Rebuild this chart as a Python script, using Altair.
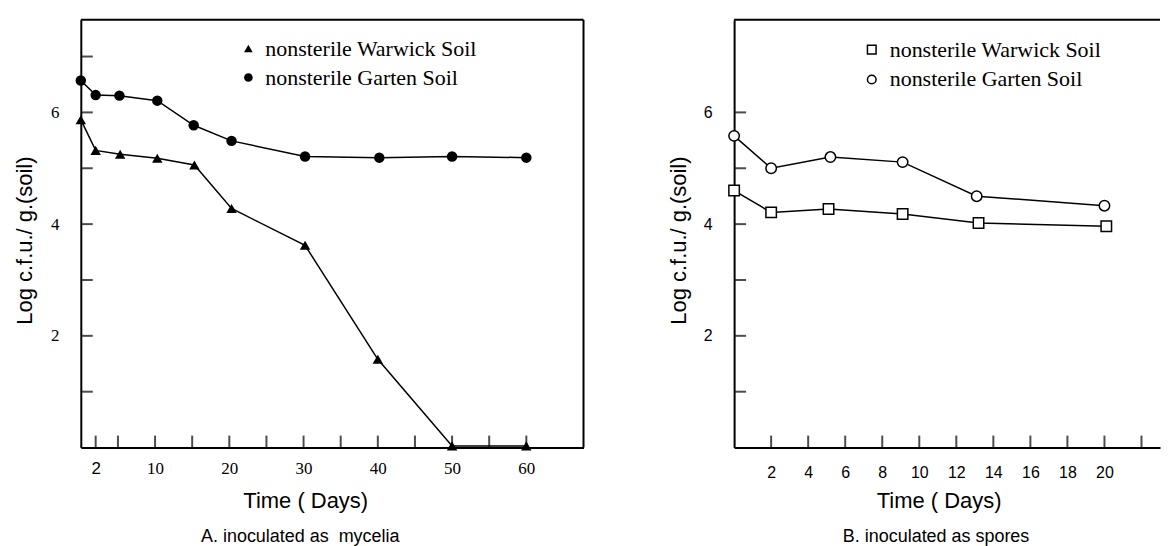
import altair as alt
import pandas as pd

# ---------------- data ----------------
series_names = ["nonsterile Warwick Soil", "nonsterile Garten Soil"]

# Panel A: inoculated as mycelia
a_days_warwick = [0, 2, 5.3, 10.3, 15.3, 20.3, 30.2, 40, 50, 60]
a_log_warwick = [5.87, 5.32, 5.25, 5.18, 5.06, 4.28, 3.62, 1.58, 0.03, 0.03]
a_days_garten = [0, 2, 5.2, 10.3, 15.2, 20.3, 30.2, 40.2, 50, 60]
a_log_garten = [6.57, 6.31, 6.30, 6.21, 5.77, 5.49, 5.21, 5.19, 5.21, 5.19]

# Panel B: inoculated as spores
b_days_warwick = [0, 2, 5.1, 9.1, 13.2, 20.1]
b_log_warwick = [4.60, 4.21, 4.27, 4.18, 4.02, 3.96]
b_days_garten = [0, 2, 5.2, 9.1, 13.1, 20]
b_log_garten = [5.58, 5.00, 5.20, 5.11, 4.50, 4.33]

# axis ticks / labels
a_xticks = [2, 5, 10, 15, 20, 25, 30, 35, 40, 45, 50, 55, 60]
a_xlabels = [2, 10, 20, 30, 40, 50, 60]
a_yticks = [1, 2, 3, 4, 5, 6, 7]
b_xticks = [2, 4, 6, 8, 10, 12, 14, 16, 18, 20, 22]
b_xlabels = [2, 4, 6, 8, 10, 12, 14, 16, 18, 20]
b_yticks = [1, 2, 3, 4, 5, 6]
ylabels = [2, 4, 6]

a_xdomain = [0, 67.7]
b_xdomain = [0, 23]
ydomain = [0, 7.66]

W_A, W_B, H = 504, 427, 429


def series_df(days_w, log_w, days_g, log_g, col):
    return pd.DataFrame({
        "day": list(days_w) + list(days_g),
        "log": list(log_w) + list(log_g),
        col: [series_names[0]] * len(days_w) + [series_names[1]] * len(days_g),
    })


def panel(df, col, xdomain, xticks, xlabels, yticks, width, serif_ticks,
          shapes, filled, legend_x, legend_y, row_pad, label_off, xlabel_pad,
          title_x, caption, cap_dx):
    tick_font = "Liberation Serif" if serif_ticks else "Liberation Sans"
    tick_size = 17 if serif_ticks else 16
    xlabel_font = ({"condition": {"test": "datum.value === 2", "value": "Liberation Sans"},
                    "value": "Liberation Serif"} if serif_ticks else "Liberation Sans")
    x = alt.X("day:Q", scale=alt.Scale(domain=xdomain, nice=False, zero=False),
              axis=alt.Axis(values=xlabels, ticks=False, grid=False, domainWidth=2,
                            domainColor="black", labelFont=xlabel_font,
                            labelFontSize=tick_size,
                            labelColor="black", labelBaseline="alphabetic",
                            labelPadding=xlabel_pad,
                            labelFlush=False, labelOverlap=False, format="d",
                            title="Time ( Days)", titleFont="Liberation Sans", titleFontSize=22,
                            titleFontWeight="normal", titleColor="black", titleX=title_x,
                            titleY=60, titleBaseline="alphabetic", titleAlign="center"))
    y = alt.Y("log:Q", scale=alt.Scale(domain=ydomain, nice=False, zero=False),
              axis=alt.Axis(values=ylabels, ticks=False, grid=False, domainWidth=2,
                            domainColor="black", labelFont=tick_font,
                            labelFontSize=tick_size,
                            labelColor="black", labelPadding=22, format="d",
                            title="Log c.f.u./ g.(soil)", titleFont="Liberation Sans",
                            titleFontSize=22, titleFontWeight="normal", titleColor="black",
                            titleX=-49, titleY=221, titleBaseline="alphabetic",
                            titleAlign="center", titleAngle=270))

    legend = alt.Legend(title=None, orient="none", legendX=legend_x, legendY=legend_y,
                        symbolSize=75, symbolStrokeWidth=1.5, symbolOpacity=1,
                        labelFont="Liberation Serif", labelFontSize=22, labelColor="black",
                        labelOffset=label_off, rowPadding=row_pad, padding=0, labelLimit=400)
    fill = "black" if filled else "white"
    lines = alt.Chart(df).mark_line(color="black", strokeWidth=1.5).encode(
        x=x, y=y, detail=f"{col}:N", order="day:Q")
    points = alt.Chart(df).mark_point(filled=filled, fill=fill, strokeWidth=1.5, size=110,
                                      opacity=1, fillOpacity=1).encode(
        x=x, y=y,
        color=alt.Color(f"{col}:N",
                        scale=alt.Scale(domain=series_names, range=["black", "black"]),
                        legend=legend),
        shape=alt.Shape(f"{col}:N", scale=alt.Scale(domain=series_names, range=shapes),
                        legend=legend))

    xt = pd.DataFrame({"day": xticks, "log": [0] * len(xticks)})
    yt = pd.DataFrame({"day": [0] * len(yticks), "log": yticks})
    xtick_marks = alt.Chart(xt).mark_tick(orient="vertical", size=12, thickness=2,
                                          color="black", yOffset=-6).encode(x=x, y=y)
    ytick_marks = alt.Chart(yt).mark_tick(orient="horizontal", size=12, thickness=2,
                                          color="black", xOffset=6).encode(x=x, y=y)
    one = pd.DataFrame({"k": [0]})
    top_rule = alt.Chart(one).mark_rule(color="black", strokeWidth=2).encode(
        x=alt.value(0), x2=alt.value(width), y=alt.value(0))
    layers = [top_rule, xtick_marks, ytick_marks, lines, points]
    if serif_ticks:
        right_rule = alt.Chart(one).mark_rule(color="black", strokeWidth=2).encode(
            x=alt.value(width), y=alt.value(0), y2=alt.value(H))
        layers.insert(1, right_rule)
    return alt.layer(*layers).properties(
        width=width, height=H,
        title=alt.TitleParams(caption, orient="bottom", anchor="middle", font="Liberation Sans",
                              fontSize=18, fontWeight="normal", color="black", offset=17,
                              dx=cap_dx))


dfA = series_df(a_days_warwick, a_log_warwick, a_days_garten, a_log_garten, "seriesA")
dfB = series_df(b_days_warwick, b_log_warwick, b_days_garten, b_log_garten, "seriesB")

panelA = panel(dfA, "seriesA", a_xdomain, a_xticks, a_xlabels, a_yticks, W_A, True,
               ["triangle-up", "circle"], True, 157, 18, 7, 6, 26, 225,
               "A. inoculated as \u00a0mycelia", -32)
panelB = panel(dfB, "seriesB", b_xdomain, b_xticks, b_xlabels, b_yticks, W_B, False,
               ["square", "circle"], False, 127, 19, 8, 7, 30, 205,
               "B. inoculated as spores", -11)

chart = alt.hconcat(panelA, panelB, spacing=151, bounds="flush").resolve_scale(
    x="independent", y="independent", shape="independent", color="independent"
).resolve_legend(shape="independent", color="independent").configure_view(
    stroke=None).properties(
    padding={"left": 6, "top": 10, "right": 0, "bottom": 0}, background="white")

chart.save("out.html", embed_options={"renderer": "svg", "actions": False})
